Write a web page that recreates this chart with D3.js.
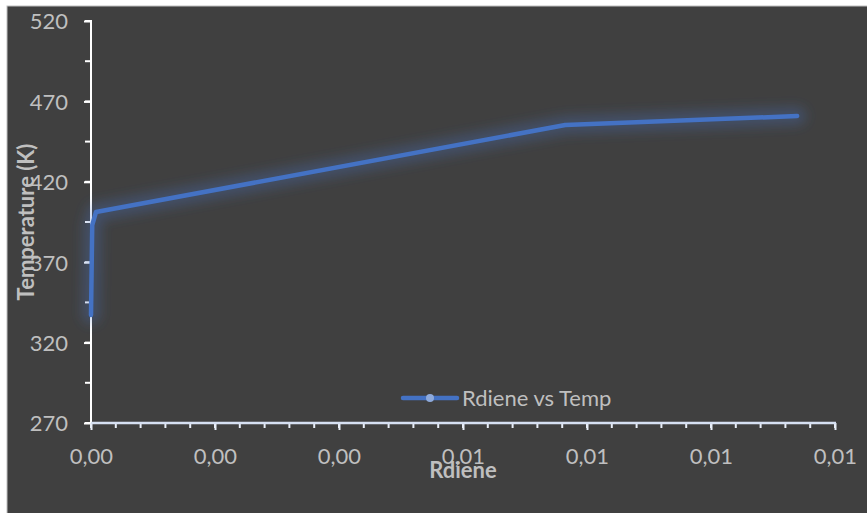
<!DOCTYPE html>
<html>
<head>
<meta charset="utf-8">
<script src="https://cdn.jsdelivr.net/npm/d3@7"></script>
<style>
  html, body { margin: 0; padding: 0; background: #ffffff; }
  svg { display: block; }
  text { font-family: Lato, "Open Sans", sans-serif; }
</style>
</head>
<body>
<script>
// ---- data ----
const rdiene = [0, 0.00002, 0.00008, 0.00765, 0.01139];
const temperature = [337.2, 393, 401.2, 455.3, 460.9];
const seriesName = "Rdiene vs Temp";
const xTickValues = [0, 0.002, 0.004, 0.006, 0.008, 0.010, 0.012];
const yTickValues = [270, 320, 370, 420, 470, 520];
const xTitle = "Rdiene";
const yTitle = "Temperature (K)";

// ---- layout ----
const W = 867, H = 513;
const plot = { left: 91, right: 835, top: 21, bottom: 423 };
const labelColor = "#bfbfbf";
const lineColor = "#4472c4";
const fs = "22px";

const svg = d3.select("body").append("svg").attr("width", W).attr("height", H);

const defs = svg.append("defs");
const glow = defs.append("filter").attr("id", "glow")
  .attr("x", "-20%").attr("y", "-50%").attr("width", "140%").attr("height", "200%");
glow.append("feGaussianBlur").attr("stdDeviation", 6);

// background
svg.append("rect").attr("x", 0).attr("y", 0).attr("width", W).attr("height", H).attr("fill", "#ffffff");
svg.append("rect").attr("x", 7).attr("y", 6).attr("width", W - 6).attr("height", H - 5)
  .attr("fill", "#404040").attr("stroke", "#bfbfbf").attr("stroke-width", 1);

const x = d3.scaleLinear().domain([0, 0.012]).range([plot.left, plot.right]);
const y = d3.scaleLinear().domain([270, 520]).range([plot.bottom, plot.top]);

const fmt = v => d3.format(".2f")(v).replace(".", ",");

// minor ticks
const xMinor = d3.range(0, 0.0120001, 0.0004);
const yMinor = d3.range(270, 521, 25);

// y axis
const yAxis = svg.append("g").attr("transform", `translate(${plot.left},0)`)
  .call(d3.axisLeft(y).tickValues(yTickValues).tickSize(7).tickPadding(16).tickFormat(d3.format("d")));
yAxis.select(".domain").remove();
yAxis.selectAll(".tick line").attr("stroke", "#ffffff").attr("stroke-width", 2);
yAxis.selectAll(".tick text").attr("fill", labelColor).style("font-size", fs).attr("dy", "0.36em");
svg.append("g").selectAll("line").data(yMinor).join("line")
  .attr("x1", plot.left - 6).attr("x2", plot.left).attr("y1", d => y(d)).attr("y2", d => y(d))
  .attr("stroke", "#ffffff").attr("stroke-width", 2);
svg.append("line").attr("x1", plot.left).attr("x2", plot.left)
  .attr("y1", plot.top - 1).attr("y2", plot.bottom)
  .attr("stroke", "#ffffff").attr("stroke-width", 2);

// x axis
const xAxis = svg.append("g").attr("transform", `translate(0,${plot.bottom})`)
  .call(d3.axisBottom(x).tickValues(xTickValues).tickSize(7).tickPadding(18).tickFormat(fmt));
xAxis.select(".domain").remove();
xAxis.selectAll(".tick line").attr("stroke", "#e8eef8").attr("stroke-width", 2);
xAxis.selectAll(".tick text").attr("fill", labelColor).style("font-size", fs);
svg.append("g").selectAll("line").data(xMinor).join("line")
  .attr("x1", d => x(d)).attr("x2", d => x(d)).attr("y1", plot.bottom).attr("y2", plot.bottom + 5)
  .attr("stroke", "#e8eef8").attr("stroke-width", 2);
svg.append("line").attr("x1", plot.left).attr("x2", plot.right + 1)
  .attr("y1", plot.bottom).attr("y2", plot.bottom)
  .attr("stroke", "#d6e0f2").attr("stroke-width", 2.5);

// titles
svg.append("text").attr("x", (plot.left + plot.right) / 2).attr("y", 478)
  .attr("text-anchor", "middle").attr("fill", labelColor)
  .style("font-size", fs).style("font-weight", "bold").text(xTitle);
svg.append("text").attr("transform", `translate(34,${(plot.top + plot.bottom) / 2}) rotate(-90)`)
  .attr("text-anchor", "middle").attr("fill", labelColor)
  .style("font-size", fs).style("font-weight", "bold").text(yTitle);

// series
const pts = rdiene.map((r, i) => [r, temperature[i]]);
const line = d3.line().x(d => x(d[0])).y(d => y(d[1]));
svg.append("path").datum(pts).attr("d", line)
  .attr("fill", "none").attr("stroke", lineColor).attr("stroke-width", 18)
  .attr("stroke-opacity", 0.3).attr("stroke-linejoin", "round").attr("stroke-linecap", "round")
  .attr("filter", "url(#glow)");
svg.append("path").datum(pts).attr("d", line)
  .attr("fill", "none").attr("stroke", lineColor).attr("stroke-width", 4.5)
  .attr("stroke-linejoin", "round").attr("stroke-linecap", "round");

// legend
const lg = svg.append("g").attr("transform", "translate(403,398)");
lg.append("line").attr("x1", 0).attr("x2", 54).attr("y1", 0).attr("y2", 0)
  .attr("stroke", lineColor).attr("stroke-width", 4.5).attr("stroke-linecap", "round");
lg.append("circle").attr("cx", 27).attr("cy", 0).attr("r", 4).attr("fill", "#8eaadb");
lg.append("text").attr("x", 59).attr("y", 0).attr("dy", "0.35em")
  .attr("fill", labelColor).style("font-size", fs).text(seriesName);
</script>
</body>
</html>
